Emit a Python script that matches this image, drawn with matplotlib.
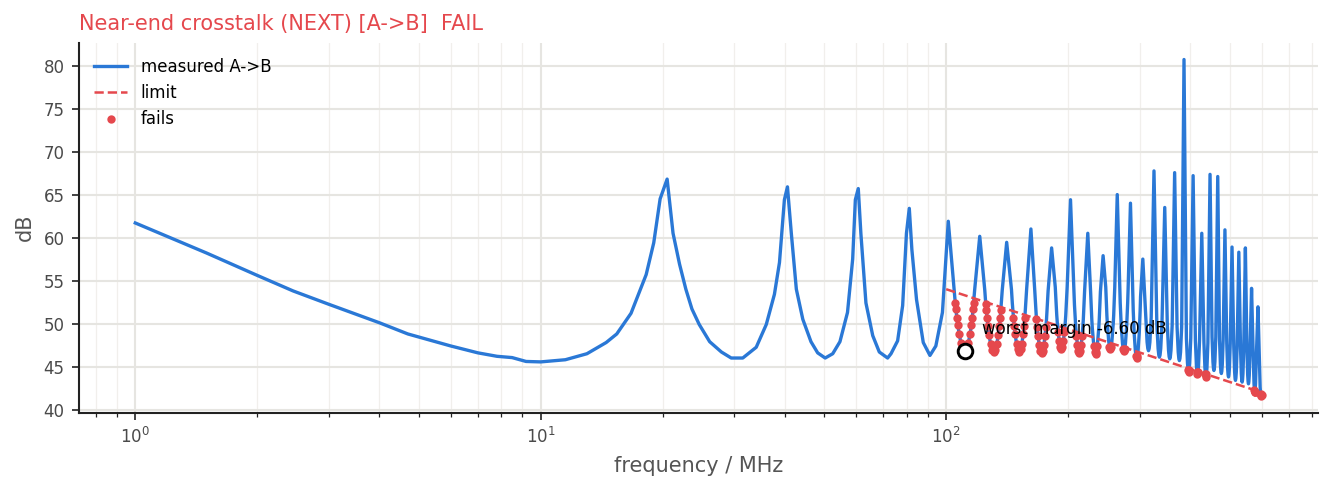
import matplotlib
matplotlib.use("Agg")
import matplotlib.pyplot as plt
import numpy as np

# measured NEXT A->B (MHz, dB), vertices
freq_low = [1.0, 1.5, 2.0, 2.45, 3.0, 4.0, 4.7, 6.0, 7.0, 7.8, 8.5, 9.2, 10.0, 11.5, 13.0,
            14.5, 15.4, 16.7, 18.2, 19.0, 19.7, 20.5, 21.2, 22.0, 22.8, 23.6, 24.6, 26.1,
            27.9, 29.5, 31.5, 34.0, 36.0, 37.7, 38.8, 39.9, 40.6, 41.5, 42.7, 44.3, 46.4,
            48.2, 50.3, 52.5, 54.7, 57.1, 58.8, 59.7, 60.7, 61.6, 63.4, 65.9, 68.4, 71.7,
            73.1, 75.9, 78.1, 79.8, 81.1, 82.3, 84.5, 87.8, 91.2, 94.3, 97.9, 101.2]
db_low = [61.7, 58.2, 55.6, 53.8, 52.25, 50.1, 48.8, 47.4, 46.6, 46.2, 46.05, 45.6, 45.55, 45.8, 46.5,
          47.8, 48.8, 51.2, 55.7, 59.4, 64.5, 66.8, 60.5, 56.9, 54.0, 51.7, 49.9, 47.9,
          46.7, 46.0, 46.0, 47.25, 49.9, 53.4, 57.1, 64.4, 65.9, 60.5, 54.0, 50.5, 47.9,
          46.6, 46.0, 46.5, 47.9, 51.3, 57.5, 64.4, 65.7, 60.5, 52.4, 48.6, 46.7, 46.0,
          46.5, 48.0, 52.1, 60.5, 63.4, 58.6, 52.8, 47.8, 46.3, 47.4, 51.3, 61.9]

# 100-300 MHz, one row per resonance (trough walls + next peak)
freq_mid = [
    104.6, 105.3, 105.7, 106.2, 106.8, 107.7, 108.8, 109.9, 111.1, 112.3, 113.4, 114.5, 115.4, 116.0, 116.5, 116.9, 117.6, 121.0,
    124.5, 125.2, 125.6, 126.1, 126.7, 127.6, 128.7, 129.8, 131.0, 132.2, 133.3, 134.4, 135.3, 135.9, 136.4, 136.8, 137.5, 141.0,
    144.9, 145.6, 146.0, 146.5, 147.1, 148.0, 149.1, 150.2, 151.4, 152.6, 153.7, 154.8, 155.7, 156.3, 156.8, 157.2, 157.9, 161.8,
    165.4, 166.1, 166.5, 167.0, 167.6, 168.5, 169.6, 170.7, 171.9, 173.1, 174.2, 175.3, 176.2, 176.8, 177.3, 177.7, 178.4, 182.0,
    185.8, 186.5, 186.9, 187.4, 188.0, 188.9, 190.0, 191.1, 192.3, 193.5, 194.6, 195.7, 196.6, 197.2, 197.7, 198.1, 198.8, 202.6,
    206.5, 207.2, 207.6, 208.1, 208.7, 209.6, 210.7, 211.8, 213.0, 214.2, 215.3, 216.4, 217.3, 217.9, 218.4, 218.8, 219.5, 223.5,
    227.1, 227.8, 228.2, 228.7, 229.3, 230.2, 231.3, 232.4, 233.6, 234.8, 235.9, 237.0, 237.9, 238.5, 239.0, 239.4, 240.1, 243.8,
    247.5, 248.2, 248.6, 249.1, 249.7, 250.6, 251.7, 252.8, 254.0, 255.2, 256.3, 257.4, 258.3, 258.9, 259.4, 259.8, 260.5, 264.2,
    268.0, 268.7, 269.1, 269.6, 270.2, 271.1, 272.2, 273.3, 274.5, 275.7, 276.8, 277.9, 278.8, 279.4, 279.9, 280.3, 281.0, 284.8,
    288.6, 289.3, 289.7, 290.2, 290.8, 291.7, 292.8, 293.9, 295.1, 296.3, 297.4, 298.5, 299.4, 300.0, 300.5, 300.9, 301.6, 305.5,
]
db_mid = [
    54.0, 52.4, 51.7, 50.7, 49.8, 48.8, 47.7, 47.05, 46.8, 47.05, 47.7, 48.8, 49.8, 50.7, 51.7, 52.4, 54.0, 60.15,
    53.9, 52.3, 51.6, 50.6, 49.7, 48.7, 47.6, 46.95, 46.7, 46.95, 47.6, 48.7, 49.7, 50.6, 51.6, 52.3, 53.9, 59.45,
    53.95, 52.35, 51.65, 50.65, 49.75, 48.75, 47.65, 47.0, 46.75, 47.0, 47.65, 48.75, 49.75, 50.65, 51.65, 52.35, 53.95, 61.0,
    53.8, 52.2, 51.5, 50.5, 49.6, 48.6, 47.5, 46.85, 46.6, 46.85, 47.5, 48.6, 49.6, 50.5, 51.5, 52.2, 53.8, 58.8,
    54.25, 52.65, 51.95, 50.95, 50.05, 49.05, 47.95, 47.3, 47.05, 47.3, 47.95, 49.05, 50.05, 50.95, 51.95, 52.65, 54.25, 64.4,
    53.8, 52.2, 51.5, 50.5, 49.6, 48.6, 47.5, 46.85, 46.6, 46.85, 47.5, 48.6, 49.6, 50.5, 51.5, 52.2, 53.8, 60.5,
    53.7, 52.1, 51.4, 50.4, 49.5, 48.5, 47.4, 46.75, 46.5, 46.75, 47.4, 48.5, 49.5, 50.4, 51.4, 52.1, 53.7, 57.9,
    54.25, 52.65, 51.95, 50.95, 50.05, 49.05, 47.95, 47.3, 47.05, 47.3, 47.95, 49.05, 50.05, 50.95, 51.95, 52.65, 54.25, 65.0,
    54.0, 52.4, 51.7, 50.7, 49.8, 48.8, 47.7, 47.05, 46.8, 47.05, 47.7, 48.8, 49.8, 50.7, 51.7, 52.4, 54.0, 64.0,
    53.15, 51.55, 50.85, 49.85, 48.95, 47.95, 46.85, 46.2, 45.95, 46.2, 46.85, 47.95, 48.95, 49.85, 50.85, 51.55, 53.15, 57.5,
]

# 300-600 MHz, narrower resonances
freq_high = [
    310.6, 313.0, 314.3, 315.5, 316.7, 318.0, 320.4, 325.5,
    330.8, 333.2, 334.5, 335.7, 336.9, 338.2, 340.6, 346.0,
    351.1, 353.5, 354.8, 356.0, 357.2, 358.5, 360.9, 366.0,
    371.1, 373.5, 374.8, 376.0, 377.2, 378.5, 380.9, 386.0,
    391.3, 393.7, 395.0, 396.2, 397.4, 398.7, 401.1, 406.5,
    411.8, 414.2, 415.5, 416.7, 417.9, 419.2, 421.6, 427.0,
    432.3, 434.7, 436.0, 437.2, 438.4, 439.7, 442.1, 447.5,
    452.6, 455.0, 456.3, 457.5, 458.7, 460.0, 462.4, 467.5,
    472.3, 474.7, 476.0, 477.2, 478.4, 479.7, 482.1, 487.0,
    492.1, 494.5, 495.8, 497.0, 498.2, 499.5, 501.9, 507.0,
    512.1, 514.5, 515.8, 517.0, 518.2, 519.5, 521.9, 527.0,
    532.1, 534.5, 535.8, 537.0, 538.2, 539.5, 541.9, 547.0,
    551.8, 554.2, 555.5, 556.7, 557.9, 559.2, 561.6, 566.5,
    572.1, 574.5, 575.8, 576.4, 577.0, 577.6, 578.2, 579.5, 581.9, 587.5,
    592.4, 594.8, 595.7, 596.5, 597.4, 598.2, 599.1, 600.0,
]
db_high = [
    50.75, 47.85, 47.1, 46.85, 47.1, 47.85, 50.75, 67.75,
    50.0, 47.1, 46.35, 46.1, 46.35, 47.1, 50.0, 63.5,
    49.8, 46.9, 46.15, 45.9, 46.15, 46.9, 49.8, 67.55,
    49.6, 46.7, 45.95, 45.7, 45.95, 46.7, 49.6, 80.7,
    48.3, 45.4, 44.65, 44.4, 44.65, 45.4, 48.3, 67.2,
    48.0, 45.1, 44.35, 44.1, 44.35, 45.1, 48.0, 60.5,
    47.75, 44.85, 44.1, 43.85, 44.1, 44.85, 47.75, 67.35,
    48.45, 45.55, 44.8, 44.55, 44.8, 45.55, 48.45, 67.1,
    48.1, 45.2, 44.45, 44.2, 44.45, 45.2, 48.1, 60.9,
    47.7, 44.8, 44.05, 43.8, 44.05, 44.8, 47.7, 58.9,
    47.3, 44.4, 43.65, 43.4, 43.65, 44.4, 47.3, 58.3,
    47.1, 44.2, 43.45, 43.2, 43.45, 44.2, 47.1, 58.8,
    46.9, 44.0, 43.25, 43.0, 43.25, 44.0, 46.9, 54.1,
    45.9, 43.0, 42.25, 42.05, 42.0, 42.05, 42.25, 43.0, 45.9, 51.95,
    45.6, 42.6, 42.15, 41.8, 41.7, 41.65, 41.6, 41.7,
]

# limit line
limit_f = [100, 600]
limit_db = [54.0, 42.0]

# worst margin point
worst_f = 111.2
worst_db = 46.8
worst_margin = -6.60

blue = "#2a78d6"
red = "#e5484d"

freq = np.array(freq_low + freq_mid + freq_high)
db = np.array(db_low + db_mid + db_high)

# points below the limit
lim_at = np.interp(np.log10(freq), np.log10(limit_f), limit_db)
bad = (freq >= limit_f[0]) & (db < lim_at)

fig = plt.figure(figsize=(1334 / 150, 491 / 150), dpi=150)
ax = fig.add_axes([0.0592, 0.1595, 0.9288, 0.7535])

ax.plot(freq, db, color=blue, lw=1.6, label="measured A->B", zorder=3)
ax.plot(limit_f, limit_db, color=red, lw=1.2, ls="--", label="limit", zorder=4)
ax.plot(freq[bad], db[bad], "o", color=red, ms=3, label="fails", zorder=5)
ax.plot([worst_f], [worst_db], "o", mfc="white", mec="black", mew=1.4, ms=7, zorder=6)
ax.annotate(f"worst margin {worst_margin:.2f} dB", (worst_f, worst_db),
            xytext=(8, 8), textcoords="offset points", fontsize=8, color="black", zorder=7)

ax.set_xscale("log")
ax.set_yticks(np.arange(40, 81, 5))
ax.grid(True, which="major", color="#e6e5e1", lw=1.0, zorder=0)
ax.grid(True, which="minor", axis="x", color="#f1efec", lw=0.6, zorder=0)
ax.set_axisbelow(True)

for s in ["top", "right"]:
    ax.spines[s].set_visible(False)
for s in ["left", "bottom"]:
    ax.spines[s].set_color("#222222")
    ax.spines[s].set_linewidth(1.0)
ax.tick_params(labelsize=8, labelcolor="#4a4a4a", color="#222222")
ax.tick_params(which="minor", color="#222222")

ax.set_xlabel("frequency / MHz", fontsize=10, color="#555555")
ax.set_ylabel("dB", fontsize=10, color="#555555")
ax.set_title("Near-end crosstalk (NEXT) [A->B]  FAIL", loc="left", fontsize=10, color=red)

ax.legend(loc="upper left", frameon=False, fontsize=8)

fig.savefig("out.png", dpi=150)
